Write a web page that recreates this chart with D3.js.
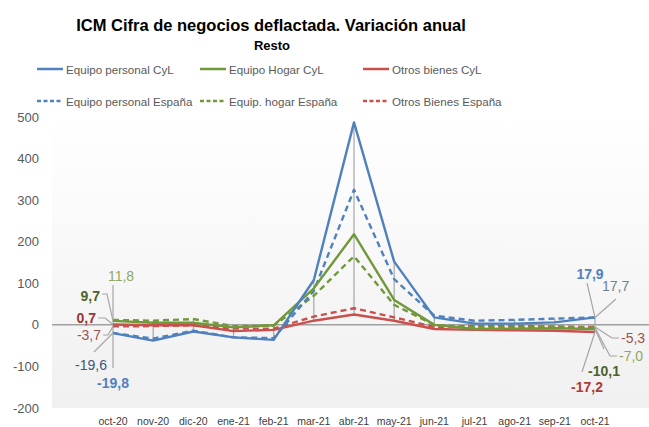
<!DOCTYPE html>
<html>
<head>
<meta charset="utf-8">
<script src="https://cdn.jsdelivr.net/npm/d3@7"></script>
<style>
  body { margin: 0; background: #fff; }
  text { font-family: "Liberation Sans", Arial, sans-serif; }
</style>
</head>
<body>
<script>
// Categories and series
const categories = ["oct-20", "nov-20", "dic-20", "ene-21", "feb-21", "mar-21", "abr-21",
  "may-21", "jun-21", "jul-21", "ago-21", "sep-21", "oct-21"];

const equipoPersonalCyL = [-19.8, -38, -16, -30, -36, 108, 487, 152, 18, 3, 3, 6, 17.9];
const equipoHogarCyL    = [9.7, 5, 5, -6, -1, 88, 218, 60, 0, -10, -9, -8, -10.1];
const otrosBienesCyL    = [0.7, -1, -1, -15, -12, 10, 25, 10, -10, -12, -13, -14, -17.2];
const equipoPersonalEsp = [-19.6, -33, -14, -30, -32, 82, 325, 110, 22, 10, 12, 15, 17.7];
const equipHogarEsp     = [11.8, 10, 14, -3, -2, 70, 165, 48, 0, -5, -5, -5, -7.0];
const otrosBienesEsp    = [-3.7, -3, -1, -9, -9, 20, 40, 18, -5, -3, -3, -4, -5.3];

const yTicks = [500, 400, 300, 200, 100, 0, -100, -200];

const series = [
  { name: "Equipo personal CyL", values: equipoPersonalCyL, color: "#4f81bd", dash: null },
  { name: "Equipo Hogar CyL", values: equipoHogarCyL, color: "#71983a", dash: null },
  { name: "Otros bienes CyL", values: otrosBienesCyL, color: "#c9504d", dash: null },
  { name: "Equipo personal España", values: equipoPersonalEsp, color: "#4f81bd", dash: "6,4" },
  { name: "Equip. hogar España", values: equipHogarEsp, color: "#71983a", dash: "6,4" },
  { name: "Otros Bienes España", values: otrosBienesEsp, color: "#c9504d", dash: "6,4" }
];

const W = 649, H = 427;
const plot = { left: 52, right: 649, top: 117, bottom: 408 };

const svg = d3.select("body").append("svg")
  .attr("width", W)
  .attr("height", H);

const x = d3.scalePoint().domain(categories).range([113, 595]);
const y = d3.scaleLinear().domain([-200, 500]).range([plot.bottom, plot.top]);

// plot background (soft gradient)
const grad = svg.append("defs").append("linearGradient")
  .attr("id", "bg").attr("x1", 0).attr("y1", 0).attr("x2", 0).attr("y2", 1);
grad.append("stop").attr("offset", "0%").attr("stop-color", "#ffffff");
grad.append("stop").attr("offset", "100%").attr("stop-color", "#f0f0f0");

svg.append("rect")
  .attr("x", plot.left).attr("y", plot.top)
  .attr("width", plot.right - plot.left).attr("height", plot.bottom - plot.top)
  .attr("fill", "url(#bg)");

// title
svg.append("text")
  .attr("x", 271).attr("y", 31)
  .attr("text-anchor", "middle")
  .attr("font-size", 16.5).attr("font-weight", "bold")
  .attr("fill", "#000")
  .text("ICM Cifra de negocios deflactada. Variación anual");

svg.append("text")
  .attr("x", 272).attr("y", 50)
  .attr("text-anchor", "middle")
  .attr("font-size", 13).attr("font-weight", "bold")
  .attr("fill", "#000")
  .text("Resto");

// legend
const legendCols = [37, 200, 363];
const legendRows = [69, 101];
series.forEach((s, i) => {
  const lx = legendCols[i % 3], ly = legendRows[Math.floor(i / 3)];
  svg.append("line")
    .attr("x1", lx).attr("x2", lx + 26).attr("y1", ly).attr("y2", ly)
    .attr("stroke", s.color).attr("stroke-width", 2.5)
    .attr("stroke-dasharray", s.dash ? "4,2.5" : null);
  svg.append("text")
    .attr("x", lx + 29).attr("y", ly + 4.5)
    .attr("font-size", 11.6).attr("fill", "#595959")
    .text(s.name);
});

// y axis labels
svg.append("g").selectAll("text")
  .data(yTicks).join("text")
  .attr("x", 39).attr("y", d => y(d) + 4.5)
  .attr("text-anchor", "end")
  .attr("font-size", 13).attr("fill", "#595959")
  .text(d => d);

// x axis labels
svg.append("g").selectAll("text")
  .data(categories).join("text")
  .attr("x", d => x(d)).attr("y", 425)
  .attr("text-anchor", "middle")
  .attr("font-size", 10.5).attr("fill", "#404040")
  .text(d => d);

// zero line
svg.append("line")
  .attr("x1", plot.left).attr("x2", plot.right)
  .attr("y1", y(0)).attr("y2", y(0))
  .attr("stroke", "#a0a0a0").attr("stroke-width", 1.5);

// drop lines (high-low)
svg.append("g").selectAll("line")
  .data(categories).join("line")
  .attr("x1", d => x(d)).attr("x2", d => x(d))
  .attr("y1", (d, i) => y(d3.max(series, s => s.values[i])))
  .attr("y2", (d, i) => y(d3.min(series, s => s.values[i])))
  .attr("stroke", "#a6a6a6").attr("stroke-width", 1.2);

// series lines
const line = d3.line()
  .x((d, i) => x(categories[i]))
  .y(d => y(d));

const drawOrder = [5, 4, 3, 2, 1, 0];
drawOrder.forEach(k => {
  const s = series[k];
  svg.append("path")
    .datum(s.values)
    .attr("d", line)
    .attr("fill", "none")
    .attr("stroke", s.color)
    .attr("stroke-width", 2.4)
    .attr("stroke-linejoin", "round")
    .attr("stroke-dasharray", s.dash);
});

// data labels at first and last category, with leader lines
const fmt = v => d3.format(".1f")(v).replace(".", ",").replace("\u2212", "-");
const labels = [
  // first category
  { s: 4, i: 0, tx: 121, ty: 281, anchor: "middle", color: "#8fa863", bold: false, lead: [[113, 285]] },
  { s: 1, i: 0, tx: 100, ty: 301, anchor: "end", color: "#4f6228", bold: true, lead: [[102, 294], [107, 294]] },
  { s: 2, i: 0, tx: 96, ty: 323, anchor: "end", color: "#953735", bold: true, lead: [[98, 318], [105, 318]] },
  { s: 5, i: 0, tx: 101, ty: 340, anchor: "end", color: "#9c5450", bold: false, lead: [[103, 335], [108, 335]] },
  { s: 3, i: 0, tx: 107, ty: 370, anchor: "end", color: "#3a5682", bold: false, lead: [[94, 352]] },
  { s: 0, i: 0, tx: 113, ty: 388, anchor: "middle", color: "#4f81bd", bold: true, lead: [[113, 368]] },
  // last category
  { s: 0, i: 12, tx: 590, ty: 279, anchor: "middle", color: "#4f81bd", bold: true, lead: [[587, 283]] },
  { s: 3, i: 12, tx: 602, ty: 291, anchor: "start", color: "#6f7f99", bold: false, lead: [[616, 299]] },
  { s: 5, i: 12, tx: 621, ty: 343, anchor: "start", color: "#9c5450", bold: false, lead: [[619, 338], [612, 338]] },
  { s: 4, i: 12, tx: 619, ty: 361, anchor: "start", color: "#8fa863", bold: false, lead: [[617, 356], [610, 356]] },
  { s: 1, i: 12, tx: 604, ty: 376, anchor: "middle", color: "#4f6228", bold: true, lead: [[604, 349]] },
  { s: 2, i: 12, tx: 587, ty: 392, anchor: "middle", color: "#b03a37", bold: true, lead: [[582, 372]] }
];

labels.forEach(l => {
  const v = series[l.s].values[l.i];
  const pts = l.lead.concat([[x(categories[l.i]), y(v)]]);
  svg.append("path")
    .attr("d", d3.line()(pts))
    .attr("fill", "none")
    .attr("stroke", "#a6a6a6").attr("stroke-width", 1.2);
  svg.append("text")
    .attr("x", l.tx).attr("y", l.ty)
    .attr("text-anchor", l.anchor)
    .attr("font-size", 14)
    .attr("font-weight", l.bold ? "bold" : "normal")
    .attr("fill", l.color)
    .text(fmt(v));
});
</script>
</body>
</html>
